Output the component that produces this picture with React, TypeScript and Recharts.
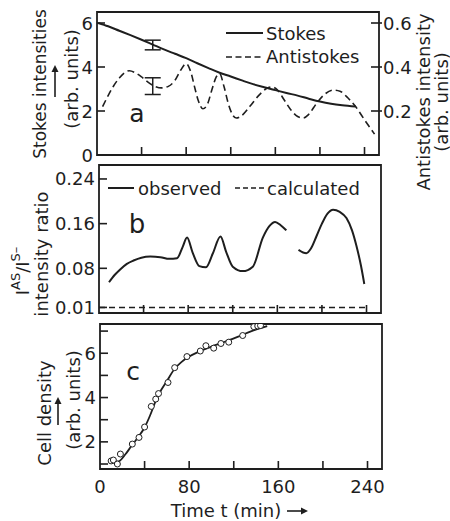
import React from 'react';
import { ComposedChart, Line, Scatter, XAxis, YAxis, ErrorBar, ReferenceArea } from 'recharts';

const INK = '#1e1e1e';
const FONT = '"DejaVu Sans", sans-serif';

// time axis
const T_DOMAIN: [number, number] = [0, 253];
const timeTicks = [0, 40, 80, 120, 160, 200, 240];
const timeLabels = [0, 80, 160, 240];

// panel a: Stokes (left axis, arb. units)
const stokesT = [1, 10, 20, 30, 40, 50, 60, 70, 80, 90, 100, 110, 120, 130, 140, 150, 160, 170, 180, 190, 200, 210, 220, 232];
const stokesV = [6.0, 5.85, 5.65, 5.45, 5.24, 5.02, 4.8, 4.6, 4.4, 4.17, 3.95, 3.74, 3.57, 3.39, 3.22, 3.08, 2.95, 2.82, 2.7, 2.56, 2.43, 2.33, 2.26, 2.2];
// panel a: Antistokes (right axis)
const antiT = [5, 10, 15, 20, 25, 29, 35, 40, 46, 52, 58, 64, 70, 75, 80, 84, 88, 91, 95, 99, 103, 107, 110, 114, 118, 122, 125, 130, 137, 145, 152, 157, 162, 168, 174, 180, 185, 190, 197, 204, 212, 218, 225, 232, 240, 249];
const antiV = [0.22, 0.27, 0.315, 0.35, 0.375, 0.383, 0.372, 0.355, 0.33, 0.312, 0.305, 0.312, 0.34, 0.385, 0.415, 0.38, 0.30, 0.245, 0.21, 0.23, 0.295, 0.355, 0.37, 0.31, 0.23, 0.18, 0.168, 0.18, 0.22, 0.27, 0.302, 0.31, 0.295, 0.25, 0.205, 0.175, 0.168, 0.185, 0.235, 0.275, 0.295, 0.29, 0.26, 0.22, 0.16, 0.095];
// error bars
const stokesErrT = [50];
const stokesErrV = [5.0];
const stokesErrE = [0.22];
const antiErrT = [50];
const antiErrV = [0.313];
const antiErrE = [0.038];
const leftTicksA = [0, 2, 4, 6];
const rightTicksA = [0.2, 0.4, 0.6];

// panel b: intensity ratio
const observedT = [9, 14, 19, 25, 31, 38, 46, 55, 63, 70, 75, 79, 84, 90, 96, 102, 109, 114, 120, 129, 138, 147, 153, 158, 163, 168, 173, 179, 186, 190, 195, 200, 205, 210, 216, 222, 227, 231, 235, 238];
const observedV: (number | null)[] = [0.055, 0.068, 0.078, 0.088, 0.094, 0.099, 0.101, 0.1, 0.097, 0.098, 0.118, 0.135, 0.108, 0.084, 0.082, 0.106, 0.137, 0.11, 0.083, 0.075, 0.083, 0.135, 0.156, 0.163, 0.157, 0.148, null, 0.113, 0.107, 0.115, 0.137, 0.16, 0.178, 0.185, 0.181, 0.17, 0.148, 0.12, 0.085, 0.052];
const calculatedT = [0, 240];
const calculatedV = [0.01, 0.01];
const ticksB = [0.01, 0.08, 0.16, 0.24];

// panel c: cell density
const densityLineT = [10, 17, 23, 28, 34, 40, 45, 50, 55, 60, 67, 73, 80, 89, 100, 112, 124, 136, 150];
const densityLineV = [1.05, 1.12, 1.45, 1.8, 2.2, 2.65, 3.2, 3.85, 4.35, 4.75, 5.3, 5.6, 5.85, 6.08, 6.3, 6.52, 6.75, 7.0, 7.22];
const densityPtsT = [10, 12, 15.6, 18.3, 29, 35, 40, 46, 50, 52.5, 61, 67, 78, 90, 95, 102, 108.5, 115.5, 128, 138, 141.5, 144];
const densityPtsV = [1.14, 1.18, 1.0, 1.45, 1.9, 2.2, 2.67, 3.6, 3.93, 4.18, 4.68, 5.35, 5.85, 6.1, 6.34, 6.23, 6.44, 6.5, 6.8, 7.2, 7.23, 7.25];
const ticksC = [1, 2, 3, 4, 5, 6, 7];
const labelsC = [2, 4, 6];

const zip = (ts: number[], vs: (number | null)[]) => ts.map((t, i) => ({ t, v: vs[i] }));
const zipE = (ts: number[], vs: number[], es: number[]) => ts.map((t, i) => ({ t, v: vs[i], e: es[i] }));

const stokesData = zip(stokesT, stokesV);
const antiData = zip(antiT, antiV);
const stokesErrData = zipE(stokesErrT, stokesErrV, stokesErrE);
const antiErrData = zipE(antiErrT, antiErrV, antiErrE);
const observedData = zip(observedT, observedV);
const calculatedData = zip(calculatedT, calculatedV);
const densityLine = zip(densityLineT, densityLineV);
const densityPts = zip(densityPtsT, densityPtsV);

const txt = { fontFamily: FONT, fontSize: 18, fill: INK };

const makeLeftTick = (labeled: number[], fmt: (v: number) => string) => (props: any) => {
  const { x, y, payload } = props;
  const v = payload.value;
  return (
    <g>
      <line x1={x} y1={y} x2={x + 8} y2={y} stroke={INK} strokeWidth={1.6} />
      {labeled.indexOf(v) >= 0 ? (
        <text x={x - 4} y={y} textAnchor="end" dominantBaseline="central" {...txt}>{fmt(v)}</text>
      ) : null}
    </g>
  );
};

const makeRightTick = (labeled: number[], fmt: (v: number) => string) => (props: any) => {
  const { x, y, payload } = props;
  const v = payload.value;
  return (
    <g>
      <line x1={x - 8} y1={y} x2={x + 3} y2={y} stroke={INK} strokeWidth={1.6} />
      {labeled.indexOf(v) >= 0 ? (
        <text x={x + 4} y={y} textAnchor="start" dominantBaseline="central" {...txt}>{fmt(v)}</text>
      ) : null}
    </g>
  );
};

const makeBottomTick = (labeled: number[]) => (props: any) => {
  const { x, y, payload } = props;
  const v = payload.value;
  return (
    <g>
      {v > 0 ? <line x1={x} y1={y} x2={x} y2={y - 8} stroke={INK} strokeWidth={1.6} /> : null}
      {labeled.indexOf(v) >= 0 ? (
        <text x={x} y={y + 17} textAnchor="middle" dominantBaseline="central" {...txt}>{String(v)}</text>
      ) : null}
    </g>
  );
};

const TopTick = (props: any) => {
  const { x, y, payload } = props;
  if (payload.value <= 0) return <g />;
  return <line x1={x} y1={y} x2={x} y2={y + 8} stroke={INK} strokeWidth={1.6} />;
};

const emptyShape = () => <g />;

const Circle = (props: any) => {
  const { cx, cy } = props;
  return <circle cx={cx} cy={cy} r={3} fill="#fff" stroke={INK} strokeWidth={1} />;
};

const axisCommon = {
  axisLine: false,
  tickLine: false,
  tickSize: 0,
  tickMargin: 0,
  interval: 0 as const,
};

function timeAxes(labeled: number[]) {
  return [
    <XAxis key="xb" dataKey="t" type="number" domain={T_DOMAIN} allowDataOverflow ticks={timeTicks}
      height={1} {...axisCommon} tick={makeBottomTick(labeled)} />,
    <XAxis key="xt" xAxisId="top" orientation="top" type="number" domain={T_DOMAIN} allowDataOverflow
      ticks={timeTicks} height={1} {...axisCommon} tick={TopTick} />,
  ];
}

const box = (y1: number, y2: number, yAxisId?: string) => (
  <ReferenceArea x1={T_DOMAIN[0]} x2={T_DOMAIN[1]} y1={y1} y2={y2} yAxisId={yAxisId}
    fill="none" fillOpacity={0} stroke={INK} strokeWidth={1.8} ifOverflow="visible" />
);

export default function App() {
  return (
    <div style={{ position: 'absolute', left: 0, top: 0, width: 450, height: 521, background: '#fff', overflow: 'hidden' }}>
      {/* panel a */}
      <div style={{ position: 'absolute', left: 0, top: 0 }}>
        <ComposedChart width={450} height={165} margin={{ top: 11, bottom: 9, left: 37, right: 11 }}>
          {timeAxes([])}
          <YAxis yAxisId="left" type="number" domain={[0, 6.5]} allowDataOverflow ticks={leftTicksA} width={60}
            {...axisCommon} tick={makeLeftTick(leftTicksA, (v) => String(v))} />
          <YAxis yAxisId="right" orientation="right" type="number" domain={[0, 0.65]} allowDataOverflow ticks={rightTicksA}
            width={60} {...axisCommon} tick={makeRightTick(rightTicksA, (v) => v.toFixed(1))} />
          {box(0, 6.5, 'left')}
          <Line yAxisId="left" data={stokesData} dataKey="v" type="monotone" stroke={INK} strokeWidth={2}
            dot={false} isAnimationActive={false} />
          <Line yAxisId="right" data={antiData} dataKey="v" type="monotone" stroke={INK} strokeWidth={1.6}
            strokeDasharray="7 4" dot={false} isAnimationActive={false} />
          <Scatter yAxisId="left" data={stokesErrData} dataKey="v" shape={emptyShape} isAnimationActive={false}>
            <ErrorBar dataKey="e" direction="y" width={8} stroke={INK} strokeWidth={1.5} />
          </Scatter>
          <Scatter yAxisId="right" data={antiErrData} dataKey="v" shape={emptyShape} isAnimationActive={false}>
            <ErrorBar dataKey="e" direction="y" width={8} stroke={INK} strokeWidth={1.5} />
          </Scatter>
        </ComposedChart>
      </div>

      {/* panel b */}
      <div style={{ position: 'absolute', left: 0, top: 160 }}>
        <ComposedChart width={450} height={160} margin={{ top: 4, bottom: 6, left: 39, right: 69 }}>
          {timeAxes([])}
          <YAxis type="number" domain={[0, 0.265]} allowDataOverflow ticks={ticksB} width={60}
            {...axisCommon} tick={makeLeftTick(ticksB, (v) => v.toFixed(2))} />
          {box(0, 0.265)}
          <Line data={calculatedData} dataKey="v" type="linear" stroke={INK} strokeWidth={1.5}
            strokeDasharray="6 4" dot={false} isAnimationActive={false} />
          <Line data={observedData} dataKey="v" type="monotone" stroke={INK} strokeWidth={2}
            dot={false} connectNulls={false} isAnimationActive={false} />
        </ComposedChart>
      </div>

      {/* panel c */}
      <div style={{ position: 'absolute', left: 0, top: 318 }}>
        <ComposedChart width={450} height={203} margin={{ top: 5, bottom: 51, left: 40, right: 68 }}>
          {timeAxes(timeLabels)}
          <YAxis type="number" domain={[0.775, 7.32]} allowDataOverflow ticks={ticksC} width={60}
            {...axisCommon} tick={makeLeftTick(labelsC, (v) => String(v))} />
          {box(0.775, 7.32)}
          <Line data={densityLine} dataKey="v" type="monotone" stroke={INK} strokeWidth={1.8}
            dot={false} isAnimationActive={false} />
          <Scatter data={densityPts} dataKey="v" shape={Circle} isAnimationActive={false} />
        </ComposedChart>
      </div>

      {/* text overlay: titles, legends, panel letters */}
      <svg width={450} height={521} style={{ position: 'absolute', left: 0, top: 0, pointerEvents: 'none' }}>
        <g {...txt}>
          {/* panel a left title */}
          <text transform="translate(40,84) rotate(-90)" textAnchor="middle" dominantBaseline="central" fontSize={17}>Stokes intensities</text>
          <line x1={55} y1={97} x2={55} y2={70} stroke={INK} strokeWidth={1.6} />
          <path d="M55,65 L51.5,72 L58.5,72 Z" fill={INK} />
          <text transform="translate(71,79) rotate(-90)" textAnchor="middle" dominantBaseline="central">(arb. units)</text>
          {/* panel a right title */}
          <text transform="translate(423,102) rotate(-90)" textAnchor="middle" dominantBaseline="central">Antistokes intensity</text>
          <text transform="translate(441,102) rotate(-90)" textAnchor="middle" dominantBaseline="central">(arb. units)</text>
          {/* legend a */}
          <line x1={226} y1={33} x2={263} y2={33} stroke={INK} strokeWidth={2} />
          <text x={266} y={40}>Stokes</text>
          <line x1={226} y1={57} x2={263} y2={57} stroke={INK} strokeWidth={1.6} strokeDasharray="6 3.5" />
          <text x={266} y={63}>Antistokes</text>
          <text x={137} y={122} textAnchor="middle" fontSize={25}>a</text>

          {/* panel b title */}
          <text transform="translate(22,271) rotate(-90)" textAnchor="middle" dominantBaseline="central">
            <tspan>I</tspan>
            <tspan dy={-7} fontSize={13}>AS</tspan>
            <tspan dy={7}>/I</tspan>
            <tspan dy={-7} fontSize={13}>S–</tspan>
          </text>
          <text transform="translate(41,254) rotate(-90)" textAnchor="middle" dominantBaseline="central">intensity ratio</text>
          {/* legend b */}
          <line x1={108} y1={188} x2={134} y2={188} stroke={INK} strokeWidth={2} />
          <text x={138} y={195}>observed</text>
          <line x1={235} y1={188} x2={264} y2={188} stroke={INK} strokeWidth={1.5} strokeDasharray="5 3" />
          <text x={267} y={195}>calculated</text>
          <text x={137} y={233} textAnchor="middle" fontSize={26}>b</text>

          {/* panel c title */}
          <text transform="translate(44,413) rotate(-90)" textAnchor="middle" dominantBaseline="central">Cell density</text>
          <line x1={58} y1={425} x2={58} y2={403} stroke={INK} strokeWidth={1.6} />
          <path d="M58,397 L54.5,404 L61.5,404 Z" fill={INK} />
          <text transform="translate(73,400) rotate(-90)" textAnchor="middle" dominantBaseline="central">(arb. units)</text>
          <text x={133} y={380} textAnchor="middle" fontSize={25}>c</text>

          {/* x title */}
          <text x={226} y={510} textAnchor="middle" dominantBaseline="central">Time t (min)</text>
          <line x1={287} y1={511} x2={302} y2={511} stroke={INK} strokeWidth={1.6} />
          <path d="M308,511 L301,507.5 L301,514.5 Z" fill={INK} />
        </g>
      </svg>
    </div>
  );
}
